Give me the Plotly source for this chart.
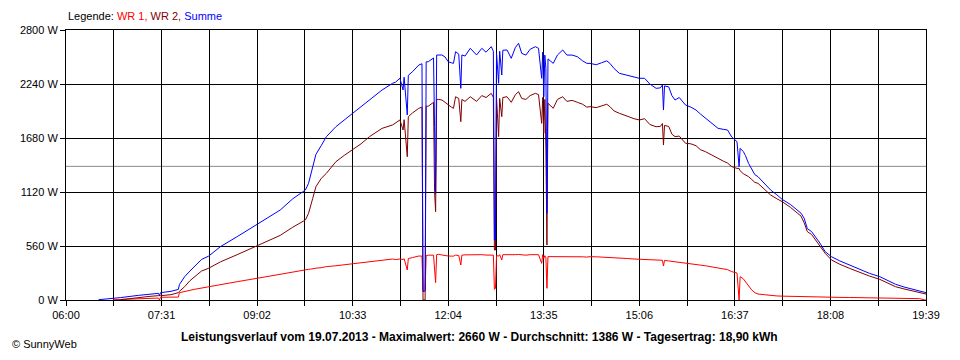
import plotly.graph_objects as go

# ---- data (time, WR 1, WR 2, Summe) ----
times = ["06:31","06:45","06:52","07:09","07:20","07:28","07:29","07:30","07:40","07:45","07:47","07:48",
         "07:53","07:58","08:02","08:09","08:16","08:27","08:43","09:02","09:24","09:36","09:40","09:46",
         "09:48","09:51","09:53","09:55","09:58","10:03","10:08","10:17","10:25","10:33","10:41","10:49",
         "11:01","11:11","11:14","11:18","11:21","11:22","11:25","11:26","11:30","11:36","11:39","11:40",
         "11:41","11:42","11:43","11:45","11:50","11:51","11:52","11:53","11:55","11:58","12:01","12:04",
         "12:07","12:09","12:11","12:14","12:16","12:17","12:20","12:25","12:31","12:36","12:40","12:45",
         "12:47","12:48","12:49","12:50","12:52","12:53","12:55","12:56","13:00","13:04","13:08","13:11",
         "13:14","13:18","13:22","13:27","13:30","13:33","13:34","13:35","13:36","13:37","13:38","13:39",
         "13:44","13:48","13:53","13:57","14:02","14:07","14:12","14:16","14:19","14:25","14:30","14:35",
         "14:38","14:42","14:47","14:55","15:01","15:06","15:11","15:16","15:22","15:26","15:28","15:29",
         "15:30","15:34","15:37","15:40","15:44","15:50","15:55","16:00","16:04","16:09","16:15","16:21",
         "16:26","16:30","16:34","16:37","16:39","16:41","16:42","16:45","16:47","16:50","16:53","16:56",
         "16:59","17:05","17:11","17:17","17:22","17:30","17:37","17:40","17:43","17:46","17:50","17:55",
         "17:58","18:03","18:09","18:17","18:26","18:35","18:45","18:55","19:03","19:10","19:18","19:26",
         "19:33","19:38","19:39"]

wr1 = [None,3,7,14,17,20,0,28,30,30,30,76,
       85,100,110,125,138,160,190,225,270,295,300,310,
       312,318,320,325,330,335,346,355,365,375,385,390,
       405,425,420,425,420,428,311,430,440,456,455,90,
       86,100,460,465,465,318,180,470,474,467,460,456,
       455,455,465,462,363,465,468,470,468,470,466,470,
       465,111,120,460,455,470,415,470,468,465,470,472,
       468,465,470,472,470,380,470,430,460,440,121,450,
       450,452,455,455,452,450,448,445,449,448,446,445,
       444,440,438,430,425,422,420,418,412,410,412,352,
       410,405,400,395,390,380,375,368,362,355,345,335,
       325,315,294,285,280,0,242,220,190,138,104,76,
       62,55,45,42,40,37,35,35,35,34,33,32,
       31,30,28,27,26,24,22,21,19,17,15,14,
       14,0,0]

wr2 = [None,None,3,28,38,45,45,45,55,70,76,90,
       138,200,235,300,330,395,470,565,670,755,780,815,
       830,899,968,1055,1175,1260,1314,1434,1500,1556,1620,1694,
       1780,1815,1835,1867,1763,1870,1486,1900,1940,1988,2000,0,
       0,0,2010,2010,2050,1123,916,2080,2080,2074,2050,2020,
       2000,1988,2108,2090,1849,2080,2060,2108,2060,2120,2100,2143,
       2100,518,518,2100,1694,2090,1901,2100,2108,2050,2130,2160,
       2090,2080,2120,2143,2130,1832,2100,1729,2080,1573,570,2040,
       1988,2080,2108,2060,2070,2050,2030,2000,2005,1995,2010,2030,
       2005,1960,1936,1900,1880,1867,1880,1820,1797,1800,1830,1607,
       1810,1800,1720,1694,1700,1625,1620,1600,1560,1538,1500,1469,
       1440,1420,1383,1370,1365,1365,1340,1310,1300,1279,1250,1220,
       1210,1150,1089,1050,1020,960,899,870,800,709,680,605,
       560,484,415,370,329,290,249,214,175,138,115,97,
       80,62,62]

summe = [3,14,25,48,58,69,45,76,90,105,110,160,
         242,300,346,420,456,553,657,788,933,1050,1080,1123,
         1141,1210,1290,1383,1510,1600,1694,1797,1870,1936,2005,2074,
         2178,2247,2260,2300,2178,2310,1919,2330,2368,2437,2450,90,
         86,100,2470,2471,2510,1797,1106,2540,2541,2541,2520,2471,
         2460,2454,2575,2550,2195,2541,2530,2610,2541,2610,2570,2627,
         2580,622,622,2560,2247,2580,2333,2590,2593,2506,2620,2662,
         2558,2540,2600,2627,2610,2299,2570,2108,2540,2400,899,2500,
         2454,2540,2593,2540,2540,2523,2480,2454,2454,2440,2460,2480,
         2454,2400,2351,2330,2316,2299,2299,2240,2195,2200,2230,1970,
         2220,2210,2120,2074,2100,2022,2000,1970,1930,1884,1830,1780,
         1770,1763,1690,1659,1642,1383,1573,1540,1500,1417,1360,1300,
         1279,1210,1141,1090,1044,990,933,900,847,740,710,640,
         590,501,449,405,363,320,277,242,200,163,135,111,
         92,76,76]

average_w = 1386
x_tick_labels = ["06:00","07:31","09:02","10:33","12:04","13:35","15:06","16:37","18:08","19:39"]
y_tick_values = [0, 560, 1120, 1680, 2240, 2800]
title_text = ("Leistungsverlauf vom 19.07.2013 - Maximalwert: 2660 W - "
              "Durchschnitt: 1386 W - Tagesertrag: 18,90 kWh")


def to_min(s):
    h, m = s.split(":")
    return int(h) * 60 + int(m)


x = [to_min(t) for t in times]
x0 = to_min(x_tick_labels[0])
x1 = to_min(x_tick_labels[-1])
step = (x1 - x0) / 18.0
grid_vals = [x0 + i * step for i in range(19)]
grid_text = [x_tick_labels[i // 2] if i % 2 == 0 else "" for i in range(19)]

FONT = "Liberation Sans, Arial, sans-serif"

fig = go.Figure()
fig.add_trace(go.Scatter(x=x, y=wr1, mode="lines", line=dict(color="#ff0000", width=1),
                         name="WR 1", connectgaps=False))
fig.add_trace(go.Scatter(x=x, y=wr2, mode="lines", line=dict(color="#800000", width=1),
                         name="WR 2", connectgaps=False))
fig.add_trace(go.Scatter(x=x, y=summe, mode="lines", line=dict(color="#0000ff", width=1),
                         name="Summe"))

fig.add_shape(type="line", xref="paper", yref="y", x0=0, x1=1, y0=average_w, y1=average_w,
              line=dict(color="#8c8c8c", width=1), layer="below")

# page body has an 8px margin: figure 944x344 placed at (8,8) fills the 960x360 window
fig.update_layout(
    width=944, height=344,
    margin=dict(l=52, r=22, t=22, b=52),
    paper_bgcolor="white", plot_bgcolor="white",
    showlegend=False,
    font=dict(family=FONT, size=11, color="black"),
    xaxis=dict(range=[x0, x1], tickmode="array", tickvals=grid_vals, ticktext=grid_text,
               showgrid=True, gridcolor="black", gridwidth=1,
               showline=True, linecolor="black", linewidth=1, mirror=True,
               ticks="outside", ticklen=5, tickcolor="black", zeroline=False,
               tickfont=dict(family=FONT, size=11, color="black")),
    yaxis=dict(range=[0, 2800], tickmode="array", tickvals=y_tick_values,
               ticktext=[f"{v} W" for v in y_tick_values],
               showgrid=True, gridcolor="black", gridwidth=1,
               showline=True, linecolor="black", linewidth=1, mirror=True,
               ticks="outside", ticklen=5, tickcolor="black", zeroline=False,
               tickfont=dict(family=FONT, size=11, color="black")),
)

fig.add_annotation(xref="paper", yref="paper", x=0, y=1, xanchor="left", yanchor="bottom",
                   yshift=6, showarrow=False,
                   text=("Legende: <span style='color:#ff0000'>WR 1,</span> "
                         "<span style='color:#800000'>WR 2,</span> "
                         "<span style='color:#0000ff'>Summe</span>"),
                   font=dict(family=FONT, size=11, color="black"))
fig.add_annotation(xref="paper", yref="paper", x=0.481, y=0, xanchor="center", yanchor="middle",
                   yshift=-37, showarrow=False, text="<b>" + title_text + "</b>",
                   font=dict(family=FONT, size=12, color="black"))
fig.add_annotation(xref="paper", yref="paper", x=0, y=0, xanchor="left", yanchor="middle",
                   xshift=-56, yshift=-44, showarrow=False, text="© SunnyWeb",
                   font=dict(family=FONT, size=11, color="black"))

fig.write_html("out.html")
